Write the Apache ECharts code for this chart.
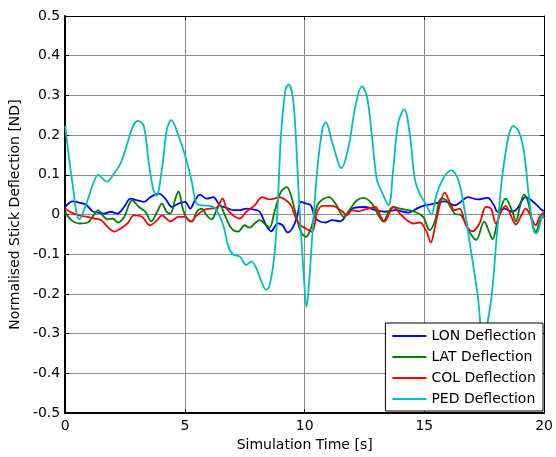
<!DOCTYPE html>
<html><head><meta charset="utf-8">
<script src="https://cdn.jsdelivr.net/npm/echarts@6/dist/echarts.min.js"></script>
<style>html,body{margin:0;padding:0;background:#fff}#c{width:556px;height:457px}</style>
</head><body><div id="c"></div>
<script>
const seriesNames = ['LON Deflection','LAT Deflection','COL Deflection','PED Deflection'];
const colors = ['#0000ff','#008000','#ff0000','#00bfbf'];
const xTicks = [0,5,10,15,20];
const yTicks = [-0.5,-0.4,-0.3,-0.2,-0.1,0,0.1,0.2,0.3,0.4,0.5];

const lon = [[0,0.019],[0.32,0.033],[0.59,0.03],[0.87,0.025],[1.15,0.008],[1.35,0.005],[1.63,0.0025],[1.9,0.007],[2.18,0.0025],[2.46,0.019],[2.73,0.04],[3.01,0.036],[3.29,0.032],[3.56,0.044],[3.9,0.0525],[4.18,0.04],[4.46,0.019],[4.73,0.0275],[5.01,0.032],[5.22,0.015],[5.42,0.036],[5.63,0.05],[5.91,0.04],[6.18,0.044],[6.46,0.023],[6.74,0.017],[7.01,0.011],[7.29,0.011],[7.56,0.015],[7.84,0.013],[8.12,0.007],[8.39,-0.027],[8.6,-0.042],[8.88,-0.022],[9.08,-0.027],[9.29,-0.045],[9.5,-0.033],[9.7,-0.002],[9.84,0.032],[10.05,0.028],[10.26,0.023],[10.46,-0.01],[10.88,-0.02],[11.15,-0.014],[11.5,-0.017],[11.77,0.0025],[12.05,0.017],[12.53,0.019],[12.95,0.011],[13.36,0.007],[13.78,0.011],[14.33,0.005],[14.74,0.017],[15.02,0.023],[15.43,0.0275],[15.85,0.033],[16.26,0.023],[16.54,0.033],[16.81,0.044],[17.23,0.038],[17.64,0.042],[17.91,0.023],[18.05,0.007],[18.33,0.015],[18.68,0.007],[18.88,0.015],[19.23,0.044],[19.43,0.038],[19.71,0.023],[19.92,0.011],[20,0.01]];

const lat = [[0,0.007],[0.25,-0.014],[0.59,-0.0225],[0.94,-0.02],[1.21,0.0],[1.38,0.011],[1.56,-0.002],[1.77,-0.012],[1.97,-0.01],[2.21,-0.02],[2.46,-0.006],[2.8,0.036],[3.08,0.019],[3.35,0.007],[3.59,-0.017],[3.84,0.007],[4.04,0.0275],[4.22,0.008],[4.39,0.0025],[4.6,0.04],[4.73,0.058],[4.91,0.015],[5.08,-0.01],[5.29,-0.018],[5.49,0.007],[5.7,0.015],[5.91,-0.002],[6.11,-0.012],[6.32,0.011],[6.46,0.023],[6.67,-0.002],[6.94,-0.035],[7.22,-0.043],[7.49,-0.027],[7.7,-0.033],[7.91,-0.0225],[8.12,-0.014],[8.33,-0.0225],[8.53,-0.033],[8.74,0.007],[9.01,0.057],[9.25,0.069],[9.43,0.048],[9.64,-0.002],[9.84,-0.043],[10.05,-0.056],[10.26,-0.035],[10.53,0.023],[10.74,0.038],[11.01,0.044],[11.29,0.0275],[11.64,-0.006],[11.91,0.015],[12.19,0.036],[12.46,0.042],[12.81,0.0275],[13.08,-0.002],[13.29,-0.018],[13.5,0.007],[13.7,0.019],[13.98,0.015],[14.33,0.011],[14.6,0.007],[14.95,-0.006],[15.22,-0.039],[15.43,-0.018],[15.71,0.04],[15.92,0.036],[16.26,0.0025],[16.54,-0.002],[16.88,-0.043],[17.16,-0.064],[17.5,-0.018],[17.7,-0.043],[17.85,-0.062],[18.05,-0.018],[18.4,0.04],[18.68,0.007],[18.82,-0.017],[19.0,0.023],[19.16,0.05],[19.33,0.032],[19.51,-0.0225],[19.65,-0.043],[19.82,-0.018],[20,0.0025]];

const col = [[0,0.015],[0.25,0.005],[0.59,-0.002],[0.94,-0.006],[1.21,-0.01],[1.49,-0.014],[1.77,-0.031],[2.04,-0.043],[2.32,-0.035],[2.6,-0.0225],[2.87,-0.002],[3.22,-0.006],[3.53,-0.027],[3.84,-0.014],[4.04,-0.002],[4.39,-0.017],[4.73,-0.006],[5.01,-0.006],[5.25,-0.018],[5.49,-0.002],[5.77,0.011],[6.05,0.015],[6.32,0.017],[6.57,0.04],[6.74,0.015],[7.01,-0.002],[7.29,-0.01],[7.56,0.007],[7.91,0.023],[8.22,0.044],[8.53,0.038],[8.74,0.04],[8.94,0.044],[9.22,0.036],[9.43,0.023],[9.64,-0.01],[9.84,-0.027],[10.05,-0.035],[10.3,-0.043],[10.53,0.007],[10.74,0.022],[11.15,0.022],[11.57,0.008],[11.77,-0.002],[11.98,0.011],[12.26,0.008],[12.53,0.013],[12.95,0.019],[13.15,-0.002],[13.33,-0.018],[13.5,-0.002],[13.7,0.019],[13.98,0.0025],[14.26,-0.014],[14.54,-0.0225],[14.81,-0.02],[15.09,-0.043],[15.27,-0.07],[15.43,-0.035],[15.64,0.023],[15.85,0.055],[16.05,0.032],[16.26,0.011],[16.47,0.015],[16.74,-0.027],[17.02,-0.042],[17.3,-0.0225],[17.57,0.019],[17.78,0.015],[17.99,-0.0225],[18.2,0.007],[18.4,0.022],[18.61,-0.002],[18.82,-0.025],[19.05,-0.002],[19.23,0.015],[19.43,-0.002],[19.65,-0.027],[19.85,-0.002],[20,0.005]];

const ped = [[0,0.223],[0.3,0.08],[0.59,-0.012],[0.9,0.03],[1.15,0.075],[1.38,0.1],[1.74,0.083],[2.0,0.1],[2.32,0.13],[2.6,0.18],[2.85,0.225],[3.04,0.236],[3.28,0.223],[3.49,0.13],[3.67,0.065],[3.81,0.047],[4.04,0.115],[4.25,0.215],[4.43,0.2375],[4.73,0.198],[5.01,0.148],[5.29,0.082],[5.49,0.0275],[5.77,0.023],[6.05,0.022],[6.32,0.011],[6.6,-0.027],[6.8,-0.077],[7.0,-0.1],[7.29,-0.106],[7.56,-0.127],[7.77,-0.118],[7.98,-0.135],[8.19,-0.168],[8.39,-0.189],[8.53,-0.18],[8.74,-0.1],[8.88,0.03],[9.01,0.198],[9.2,0.315],[9.33,0.3275],[9.5,0.298],[9.63,0.198],[9.77,0.03],[9.98,-0.17],[10.08,-0.233],[10.2,-0.16],[10.32,-0.052],[10.53,0.115],[10.74,0.215],[10.88,0.233],[11.15,0.182],[11.54,0.117],[11.84,0.173],[12.12,0.273],[12.39,0.323],[12.6,0.298],[12.81,0.198],[13.01,0.09],[13.22,0.057],[13.5,0.023],[13.7,0.115],[13.91,0.232],[14.16,0.265],[14.4,0.198],[14.6,0.09],[14.81,0.052],[15.09,0.023],[15.29,0.0],[15.5,0.048],[15.78,0.09],[16.12,0.111],[16.4,0.09],[16.67,0.015],[16.95,-0.093],[17.22,-0.2],[17.45,-0.31],[17.78,-0.218],[18.05,-0.035],[18.33,0.132],[18.71,0.223],[18.94,0.21],[19.16,0.157],[19.36,0.048],[19.57,-0.043],[19.68,-0.0475],[19.82,-0.027],[19.92,-0.002],[20,-0.01]];

const dataSets = [lon, lat, col, ped];
const FONT = 'DejaVu Sans, Liberation Sans, sans-serif';

const chart = echarts.init(document.getElementById('c'), null, {renderer:'canvas'});
const gridLine = {show:true, lineStyle:{color:'#8c8c8c', width:1}};
chart.setOption({
  animation:false,
  backgroundColor:'#fff',
  grid:{left:64, right:9, top:16, bottom:41, containLabel:false},
  legend:{
    orient:'vertical', right:13, bottom:46,
    data: seriesNames,
    icon:'path://M0,0 L34,0 L34,2 L0,2 Z',
    symbolKeepAspect:true,
    backgroundColor:'#fff', borderColor:'#000', borderWidth:1, borderRadius:0,
    padding:[6,7,5,7], itemGap:7, itemWidth:34, itemHeight:14,
    textStyle:{fontFamily:FONT, fontSize:14, color:'#000'},
    z:10
  },
  xAxis:[{
    type:'value', min:0, max:20, interval:5, position:'bottom',
    name:'Simulation Time [s]', nameLocation:'middle', nameGap:24,
    nameTextStyle:{fontFamily:FONT, fontSize:14, color:'#000'},
    axisLine:{show:true, onZero:false, lineStyle:{color:'#000', width:2}},
    axisTick:{show:true, inside:true, length:4, lineStyle:{color:'#000'}},
    axisLabel:{fontFamily:FONT, fontSize:14, color:'#000', margin:6},
    splitLine:gridLine
  },{
    type:'value', min:0, max:20, interval:5, position:'top',
    axisLine:{show:true, onZero:false, lineStyle:{color:'#000', width:1}},
    axisTick:{show:true, inside:true, length:4, lineStyle:{color:'#000'}},
    axisLabel:{show:false}, splitLine:{show:false}
  }],
  yAxis:[{
    type:'value', min:-0.5, max:0.5, interval:0.1, position:'left',
    name:'Normalised Stick Deflection [ND]', nameLocation:'middle', nameGap:39,
    nameTextStyle:{fontFamily:FONT, fontSize:14, color:'#000'},
    axisLine:{show:true, onZero:false, lineStyle:{color:'#000', width:2}},
    axisTick:{show:true, inside:true, length:4, lineStyle:{color:'#000'}},
    axisLabel:{fontFamily:FONT, fontSize:14, color:'#000', margin:5,
      formatter: v => { const r = Math.round(v*10)/10; return r === 0 ? '0' : String(r); }},
    splitLine:gridLine
  },{
    type:'value', min:-0.5, max:0.5, interval:0.1, position:'right',
    axisLine:{show:true, onZero:false, lineStyle:{color:'#000', width:1}},
    axisTick:{show:true, inside:true, length:4, lineStyle:{color:'#000'}},
    axisLabel:{show:false}, splitLine:{show:false}
  }],
  series: seriesNames.map((n,i)=>({
    name:n, type:'line', data:dataSets[i], smooth:0.35,
    showSymbol:false, symbol:'none', xAxisIndex:0, yAxisIndex:0,
    lineStyle:{color:colors[i], width:1.8}, itemStyle:{color:colors[i]}
  }))
});
</script></body></html>
